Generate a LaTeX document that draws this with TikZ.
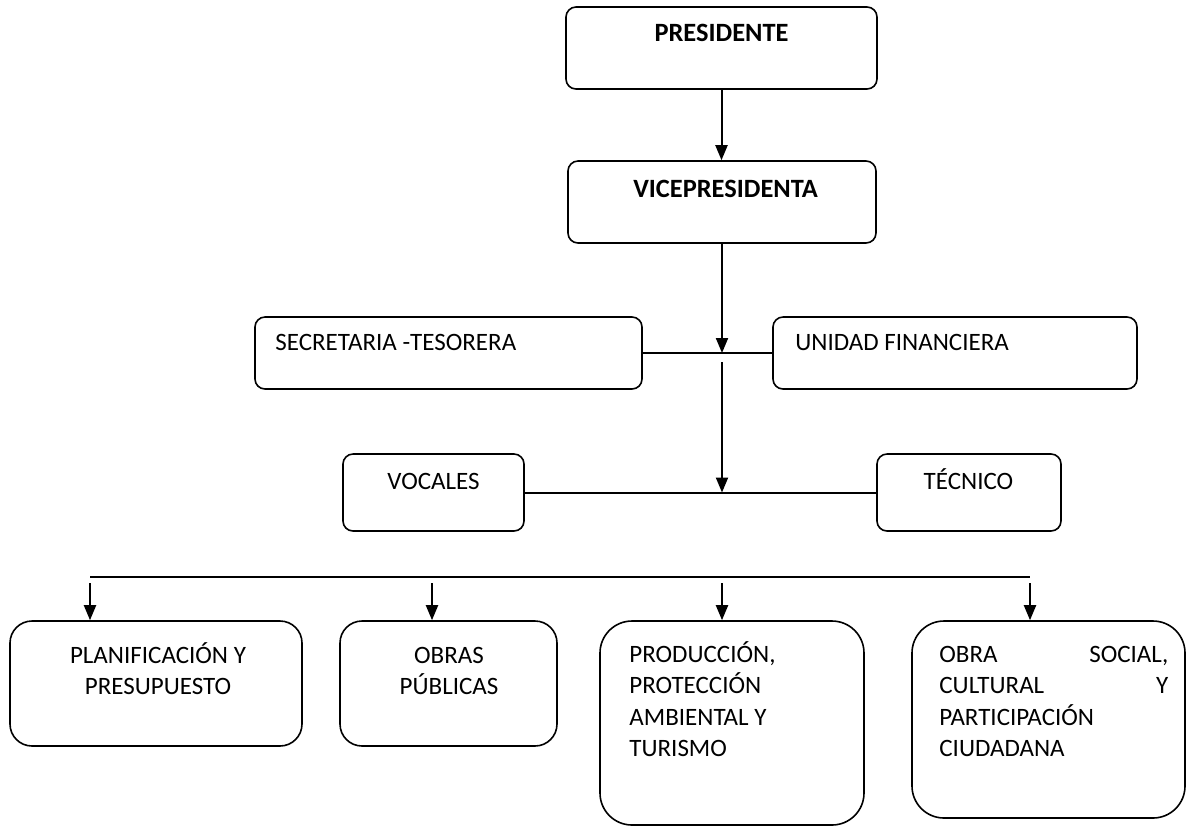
\documentclass[tikz,border=0pt]{standalone}
\usepackage{fontspec}
\setmainfont{Carlito}
\usetikzlibrary{positioning, arrows.meta}

\begin{document}
\begin{tikzpicture}[x=0.5pt, y=-0.5pt, font=\fontsize{12.5}{15.8}\selectfont,
  box/.style={draw, line width=0.8pt, rounded corners=5pt, inner sep=0pt},
  bigbox/.style={box, rounded corners=11pt},
  tallbox/.style={box, rounded corners=16pt},
  txt/.style={inner sep=0pt},
  head/.style={txt, font=\fontsize{13.2}{16}\selectfont\bfseries, anchor=base},
  link/.style={line width=1pt},
  arr/.style={line width=1pt, -{Triangle[width=6pt, length=7.5pt]}}]
  \useasboundingbox (0,0) rectangle (1194,827);

  % Upper boxes.
  \node[box, minimum width=155.5pt, minimum height=41pt] (pres) at (721.5,48) {};
  \node[box, minimum width=154pt, minimum height=41pt] (vice) at (722,202) {};
  \node[box, minimum width=193.5pt, minimum height=36pt] (sec) at (448.5,353) {};
  \node[box, minimum width=182pt, minimum height=36pt] (unid) at (955,353) {};
  \node[box, minimum width=90.5pt, minimum height=38.5pt] (voc) at (433.5,492.5) {};
  \node[box, minimum width=92pt, minimum height=38.5pt] (tec) at (969,492.5) {};

  \node[head] (presT) at (721.5,41) {PRESIDENTE};
  \node[head] (viceT) at (725.5,197) {VICEPRESIDENTA};
  \node[txt, anchor=base west] (secT) at (275,350) {SECRETARIA -TESORERA};
  \node[txt, anchor=base west] (unidT) at (795,350) {UNIDAD FINANCIERA};
  \node[txt, anchor=base] (vocT) at (433.5,489) {VOCALES};
  \node[txt, anchor=base] (tecT) at (968.5,489) {TÉCNICO};

  % Lower boxes.
  \node[bigbox, minimum width=146pt, minimum height=62.5pt] (plan) at (156,683.5) {};
  \node[bigbox, minimum width=108.5pt, minimum height=62.5pt] (obras) at (448.5,683.5) {};
  \node[tallbox, minimum width=132pt, minimum height=102pt] (prod) at (732,723) {};
  \node[tallbox, minimum width=136.5pt, minimum height=98.5pt] (obra) at (1048.5,719.5) {};

  \node[txt, text width=130pt, align=flush center, anchor=base] (planT) at (158,663) {PLANIFICACIÓN Y\\PRESUPUESTO};
  \node[txt, text width=100pt, align=flush center, anchor=base] (obrasT) at (449,663) {OBRAS\\PÚBLICAS};
  \node[txt, text width=120pt, align=flush left, anchor=base west] (prodT) at (629,662)
    {PRODUCCIÓN,\\PROTECCIÓN\\AMBIENTAL Y\\TURISMO};
  \node[txt, text width=114.5pt, align=left, anchor=base west] (obraT) at (939,662)
    {OBRA\hfill SOCIAL,\\CULTURAL\hfill Y\\PARTICIPACIÓN\\CIUDADANA};

  % Connectors.
  \draw[arr] (pres.south) -- (pres.south |- vice.north);
  \draw[link] (sec.east) -- (unid.west);
  \coordinate (j1) at (vice.south |- sec.east);
  \draw[arr] (vice.south) -- (j1);
  \coordinate (j2) at (722,362);
  \draw[arr] (j2) -- (j2 |- voc.east);
  \draw[link] (voc.east) -- (tec.west);

  \coordinate (busL) at (90,577);
  \coordinate (busR) at (1030,577);
  \draw[link] (busL) -- (busR);
  \foreach \x/\n in {90/plan, 432/obras, 722/prod, 1030/obra} {
    \coordinate (t\n) at (\x,583);
    \draw[arr] (t\n) -- (t\n |- \n.north);
  }
\end{tikzpicture}
\end{document}
